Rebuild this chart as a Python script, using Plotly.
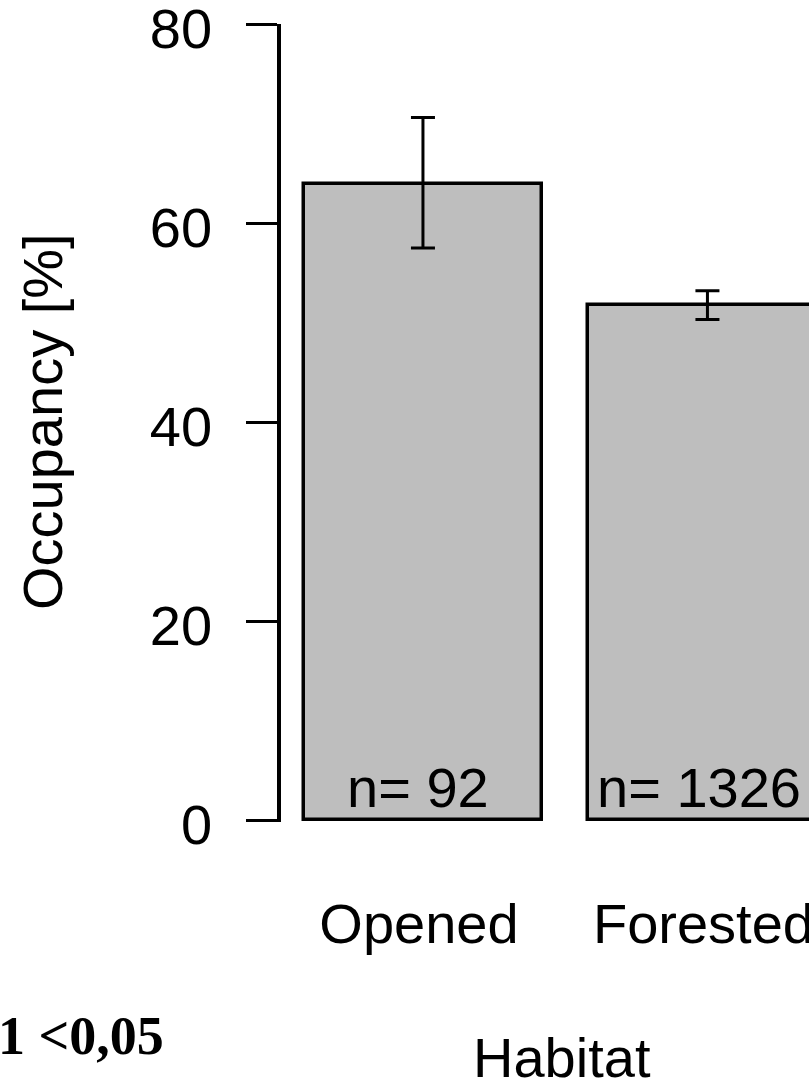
import plotly.graph_objects as go

# Data
categories = ["Opened", "Forested"]
occupancy = [63.9, 51.8]
ci_upper = [70.6, 53.2]
ci_lower = [57.5, 50.3]
n_labels = ["n= 92", "n= 1326"]
y_ticks = [0, 20, 40, 60, 80]

err_plus = [u - m for u, m in zip(ci_upper, occupancy)]
err_minus = [m - l for m, l in zip(occupancy, ci_lower)]

FONT = "Liberation Sans, Arial, sans-serif"
FS = 56

W, H = 809, 1083
L, R, T, B = 281, 0, 24, 261
PW = W - L - R
PH = H - T - B

def px_to_paper_y(py):
    return (H - B - py) / PH

def px_to_paper_x(px):
    return (px - L) / PW

fig = go.Figure()

fig.add_trace(go.Bar(
    x=categories,
    y=occupancy,
    width=0.838,
    marker=dict(color="#BEBEBE", line=dict(color="black", width=3.5)),
    error_y=dict(type="data", symmetric=False, array=err_plus, arrayminus=err_minus,
                 thickness=3, width=12, color="black"),
    showlegend=False,
    hoverinfo="skip",
))

annotations = []
for cat, lab, shift in zip(categories, n_labels, [-5, -8]):
    annotations.append(dict(
        text=lab, xref="x", x=cat, xanchor="center", xshift=shift,
        yref="y", y=3.3, yanchor="middle",
        showarrow=False, font=dict(family=FONT, size=FS, color="black")))

annotations += [
    dict(text="Occupancy [%]", textangle=-90,
         xref="paper", x=px_to_paper_x(42), xanchor="center",
         yref="y", y=40, yanchor="middle",
         showarrow=False, font=dict(family=FONT, size=FS, color="black")),
    dict(text="Habitat",
         xref="x", x=0.489, xanchor="center",
         yref="paper", y=px_to_paper_y(1057), yanchor="middle",
         showarrow=False, font=dict(family=FONT, size=FS, color="black")),
    dict(text="<b>1 <0,05</b>",
         xref="paper", x=px_to_paper_x(-4), xanchor="left",
         yref="paper", y=px_to_paper_y(1036), yanchor="middle",
         showarrow=False, font=dict(family="Liberation Serif, Times New Roman, serif", size=54, color="black")),
]

fig.update_layout(
    width=W, height=H,
    margin=dict(l=L, r=R, t=T, b=B, pad=0, autoexpand=False),
    paper_bgcolor="white",
    plot_bgcolor="white",
    bargap=0,
    xaxis=dict(
        type="category",
        range=[-0.499, 1.357],
        automargin=False,
        showline=False, showgrid=False, zeroline=False,
        ticks="",
        tickfont=dict(family=FONT, size=FS, color="black"),
        ticklabelstandoff=64,
        ticklabelshift=-4,
        ticklabeloverflow="allow",
    ),
    yaxis=dict(
        range=[-0.2, 80],
        automargin=False,
        tickvals=y_ticks,
        ticktext=[str(v) for v in y_ticks],
        showline=True, linewidth=3.5, linecolor="black",
        ticks="outside", ticklen=31, tickwidth=3, tickcolor="black",
        showgrid=False, zeroline=False,
        tickfont=dict(family=FONT, size=FS, color="black"),
        ticklabelstandoff=23,
        ticklabelshift=4,
        ticklabeloverflow="allow",
    ),
    annotations=annotations,
)

fig.write_html("out.html")
